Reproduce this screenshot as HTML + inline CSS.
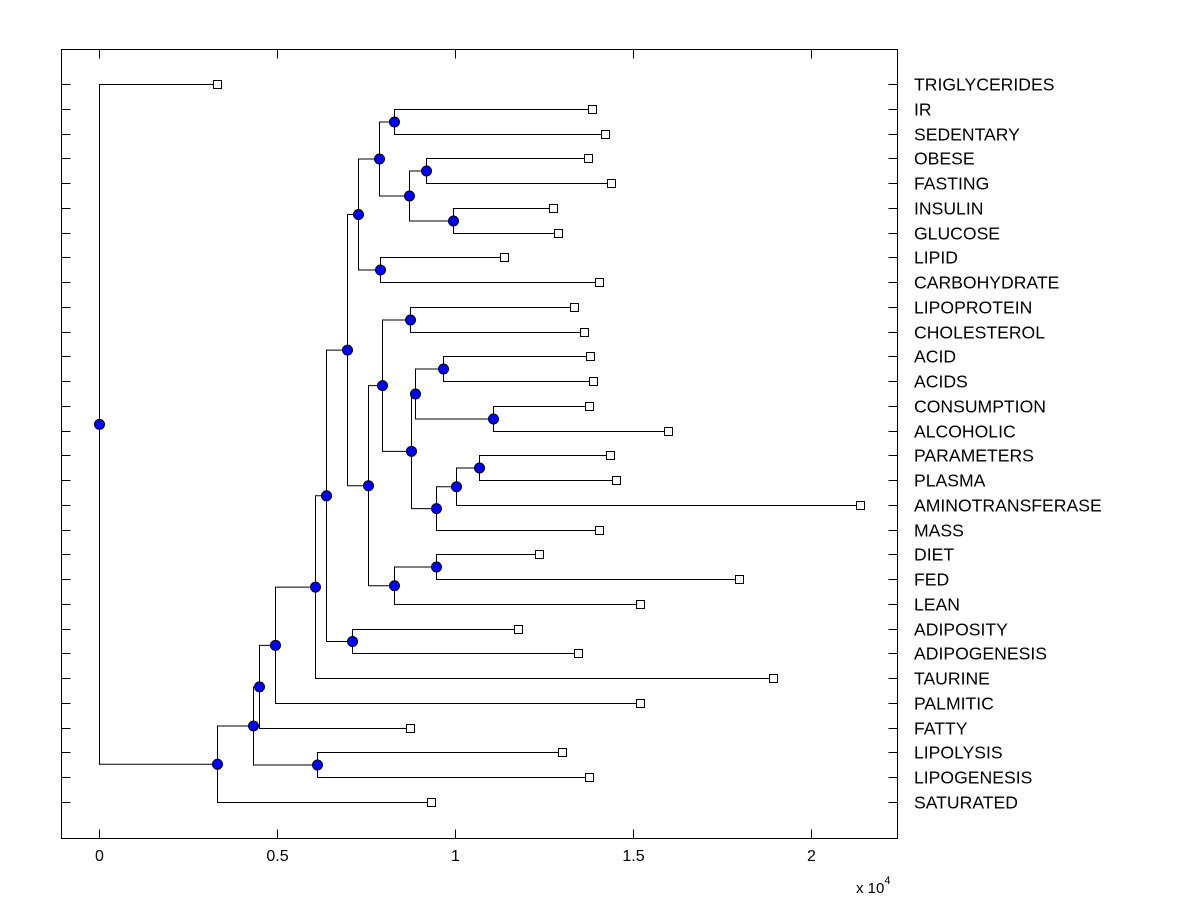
<!DOCTYPE html>
<html><head><meta charset="utf-8"><style>
html,body{margin:0;padding:0;background:#fff;width:1200px;height:900px;overflow:hidden}
svg text{font-family:"Liberation Sans",Arial,sans-serif;fill:#000}
</style></head><body>
<svg id="chart" width="1200" height="900" xmlns="http://www.w3.org/2000/svg"></svg>
<script>
// leaf labels (top to bottom) and leaf heights
const leafLabels=["TRIGLYCERIDES","IR","SEDENTARY","OBESE","FASTING","INSULIN","GLUCOSE","LIPID","CARBOHYDRATE","LIPOPROTEIN","CHOLESTEROL","ACID","ACIDS","CONSUMPTION","ALCOHOLIC","PARAMETERS","PLASMA","AMINOTRANSFERASE","MASS","DIET","FED","LEAN","ADIPOSITY","ADIPOGENESIS","TAURINE","PALMITIC","FATTY","LIPOLYSIS","LIPOGENESIS","SATURATED"];
const leafValues=[3340,13850,14240,13740,14410,12780,12920,11400,14070,13370,13650,13820,13900,13790,16010,14380,14550,21380,14070,12360,17980,15220,11770,13480,18960,15220,8760,13030,13790,9330];
// merges: node name, child A, child B
const mergeNodes=[["nIR","IR","SEDENTARY"],["nObF","OBESE","FASTING"],["nIG","INSULIN","GLUCOSE"],["nOF","nObF","nIG"],["nI","nIR","nOF"],["nLip","LIPID","CARBOHYDRATE"],["nG","nI","nLip"],["nLC","LIPOPROTEIN","CHOLESTEROL"],["nAA","ACID","ACIDS"],["nCA","CONSUMPTION","ALCOHOLIC"],["nAC","nAA","nCA"],["nPa","PARAMETERS","PLASMA"],["nPP","nPa","AMINOTRANSFERASE"],["nPM","nPP","MASS"],["nK","nAC","nPM"],["nJ","nLC","nK"],["nDi","DIET","FED"],["nDF","nDi","LEAN"],["nH","nJ","nDF"],["nF","nG","nH"],["nAd","ADIPOSITY","ADIPOGENESIS"],["nE","nF","nAd"],["nD","nE","TAURINE"],["nC","nD","PALMITIC"],["nB","nC","FATTY"],["nLL","LIPOLYSIS","LIPOGENESIS"],["nA","nB","nLL"],["n1","nA","SATURATED"],["root","TRIGLYCERIDES","n1"]];
const mergeHeights=[8310,9190,9970,8710,7870,7920,7280,8740,9690,11070,8880,10700,10030,9470,8790,7950,9490,8310,7560,6990,7130,6380,6070,4970,4520,6150,4330,3340,0];
const xTicks=[0,5000,10000,15000,20000];
const xTickLabels=["0","0.5","1","1.5","2"];

const svg=document.getElementById('chart');
const NS="http://www.w3.org/2000/svg";
const L=61.5,R=897.5,T=49.5,B=838.5;
const xs=v=>98.5+v*356/10000;
const ys=i=>Math.round(84+i*(802-84)/(leafLabels.length-1))+0.5;
function mk(tag,attrs,parent){const e=document.createElementNS(NS,tag);for(const k in attrs)e.setAttribute(k,attrs[k]);(parent||svg).appendChild(e);return e;}

const frame=mk('rect',{x:L,y:T,width:R-L,height:B-T,fill:'none',stroke:'#000','stroke-width':1});



xTicks.forEach((t,i)=>{
  const x=Math.round(xs(t))+0.5;
  const g=mk('g',{});
  
  
  mk('line',{x1:x,y1:B,x2:x,y2:B-9,stroke:'#000'},g);
  mk('line',{x1:x,y1:T,x2:x,y2:T+9,stroke:'#000'},g);
  const tx=mk('text',{x:x,y:861,'font-size':16,'text-anchor':'middle'},g);
  tx.textContent=xTickLabels[i];
});
const mult=mk('text',{x:856,y:893,'font-size':15});


mult.innerHTML='x 10<tspan dy="-9" font-size="11">4</tspan>';

const pos={};
leafLabels.forEach((n,i)=>{pos[n]={x:xs(leafValues[i]),y:ys(i),leaf:true};});
const lines=mk('g',{});


const marks=[];
mergeNodes.forEach((m,i)=>{
  const a=pos[m[1]],b=pos[m[2]];const x=Math.round(xs(mergeHeights[i]))+0.5;const y=(a.y+b.y)/2;
  pos[m[0]]={x:x,y:y};
  mk('path',{d:`M${a.x},${a.y}H${x}V${b.y}H${b.x}`,fill:'none',stroke:'#000','stroke-width':1},lines);
  marks.push([m[0],x,y]);
});
leafLabels.forEach((n,i)=>{
  const y=ys(i);
  const tk=mk('g',{});
  
  
  mk('line',{x1:L,y1:y,x2:L+9,y2:y,stroke:'#000'},tk);
  mk('line',{x1:R,y1:y,x2:R-9,y2:y,stroke:'#000'},tk);
  const sq=mk('rect',{x:Math.round(pos[n].x)-4+0.5,y:y-4,width:8,height:8,fill:'#fff',stroke:'#000'});
  
  
  const t=mk('text',{x:914,y:y+6,'font-size':17.6});
  
  
  t.textContent=n;
});
marks.forEach(m=>{
  const c=mk('circle',{cx:m[1],cy:m[2],r:5,fill:'#0000ff',stroke:'#000','stroke-width':1});
  
  
});
</script>
</body></html>
